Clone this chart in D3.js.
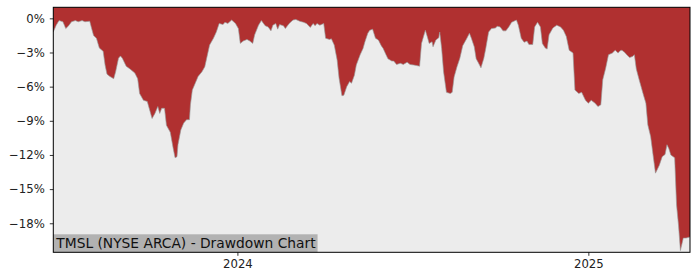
<!DOCTYPE html>
<html><head><meta charset="utf-8">
<script src="https://cdn.jsdelivr.net/npm/d3@7"></script>
<style>html,body{margin:0;padding:0;background:#fff;}svg{display:block;}</style>
</head><body><svg id="chart" width="700" height="280"></svg>
<script>
const dates = ["2023-06-23","2023-06-26","2023-06-29","2023-07-03","2023-07-06","2023-07-09","2023-07-12","2023-07-16","2023-07-19","2023-07-23","2023-07-26","2023-07-31","2023-08-02","2023-08-04","2023-08-07","2023-08-10","2023-08-14","2023-08-16","2023-08-18","2023-08-21","2023-08-25","2023-08-27","2023-08-30","2023-09-01","2023-09-03","2023-09-07","2023-09-11","2023-09-16","2023-09-19","2023-09-21","2023-09-25","2023-09-29","2023-10-02","2023-10-04","2023-10-07","2023-10-10","2023-10-12","2023-10-14","2023-10-17","2023-10-19","2023-10-23","2023-10-26","2023-10-28","2023-10-30","2023-10-31","2023-11-03","2023-11-06","2023-11-09","2023-11-12","2023-11-13","2023-11-15","2023-11-18","2023-11-21","2023-11-25","2023-11-28","2023-12-01","2023-12-03","2023-12-07","2023-12-10","2023-12-13","2023-12-17","2023-12-19","2023-12-22","2023-12-26","2023-12-30","2024-01-02","2024-01-04","2024-01-07","2024-01-11","2024-01-14","2024-01-17","2024-01-19","2024-01-23","2024-01-26","2024-01-30","2024-02-02","2024-02-05","2024-02-07","2024-02-10","2024-02-12","2024-02-14","2024-02-18","2024-02-20","2024-02-24","2024-02-28","2024-03-02","2024-03-06","2024-03-10","2024-03-13","2024-03-17","2024-03-20","2024-03-22","2024-03-24","2024-03-27","2024-03-31","2024-04-02","2024-04-06","2024-04-08","2024-04-11","2024-04-14","2024-04-16","2024-04-19","2024-04-21","2024-04-24","2024-04-27","2024-04-29","2024-05-02","2024-05-04","2024-05-08","2024-05-11","2024-05-13","2024-05-16","2024-05-18","2024-05-21","2024-05-24","2024-05-27","2024-05-30","2024-06-01","2024-06-04","2024-06-06","2024-06-10","2024-06-12","2024-06-15","2024-06-19","2024-06-22","2024-06-26","2024-06-29","2024-07-03","2024-07-06","2024-07-09","2024-07-11","2024-07-15","2024-07-17","2024-07-19","2024-07-22","2024-07-23","2024-07-26","2024-07-29","2024-07-30","2024-08-01","2024-08-03","2024-08-06","2024-08-10","2024-08-12","2024-08-14","2024-08-17","2024-08-20","2024-08-23","2024-08-27","2024-08-30","2024-09-01","2024-09-04","2024-09-06","2024-09-08","2024-09-11","2024-09-14","2024-09-16","2024-09-19","2024-09-22","2024-09-26","2024-09-28","2024-10-01","2024-10-04","2024-10-07","2024-10-10","2024-10-13","2024-10-18","2024-10-20","2024-10-23","2024-10-26","2024-10-29","2024-10-31","2024-11-04","2024-11-06","2024-11-09","2024-11-12","2024-11-14","2024-11-17","2024-11-19","2024-11-21","2024-11-25","2024-11-29","2024-12-03","2024-12-06","2024-12-09","2024-12-12","2024-12-16","2024-12-18","2024-12-22","2024-12-25","2024-12-29","2025-01-01","2025-01-04","2025-01-08","2025-01-11","2025-01-14","2025-01-16","2025-01-19","2025-01-22","2025-01-26","2025-01-29","2025-02-01","2025-02-03","2025-02-05","2025-02-08","2025-02-10","2025-02-13","2025-02-16","2025-02-18","2025-02-20","2025-02-23","2025-02-27","2025-03-02","2025-03-04","2025-03-07","2025-03-09","2025-03-12","2025-03-16","2025-03-19","2025-03-22","2025-03-24","2025-03-26","2025-03-28","2025-04-01","2025-04-03","2025-04-05","2025-04-07","2025-04-10","2025-04-13","2025-04-17"];
const drawdown = [-1.2,-0.6,-0.2,-0.3,-0.9,-0.65,-0.3,-0.2,-0.3,-0.2,-0.3,-0.25,-0.9,-1.5,-1.75,-2.6,-2.9,-4.1,-4.9,-5.1,-5.3,-4.7,-3.5,-3.3,-3.5,-4.2,-4.45,-4.8,-5.3,-6.6,-7.2,-7.3,-8.2,-8.8,-8.35,-7.75,-8.35,-7.9,-7.9,-9.4,-10.0,-11.4,-12.25,-12.15,-11.1,-9.8,-9.2,-8.9,-8.9,-7.6,-6.3,-5.7,-5.1,-4.7,-4.25,-3.1,-2.35,-1.75,-1.2,-0.45,-0.55,-0.35,-0.45,-0.15,-0.45,-0.9,-2.2,-2.0,-1.85,-2.0,-2.2,-1.45,-0.6,-0.2,-0.65,-0.75,-1.1,-0.6,-0.45,-0.95,-0.55,-0.65,-0.9,-0.45,-0.15,-0.1,-0.25,-0.35,-0.45,-0.8,-0.45,-0.65,-0.45,-0.6,-0.45,-1.75,-1.85,-1.8,-2.35,-3.65,-5.25,-6.8,-6.75,-6.0,-5.55,-5.7,-5.0,-4.1,-3.2,-2.65,-2.05,-1.3,-1.05,-0.95,-1.75,-1.9,-2.4,-2.65,-3.2,-3.55,-3.75,-3.75,-4.05,-3.95,-4.05,-3.85,-4.05,-4.1,-4.15,-4.2,-2.2,-1.05,-1.6,-2.2,-2.05,-2.5,-1.9,-1.7,-1.2,-2.65,-4.7,-6.5,-6.6,-6.5,-5.15,-4.25,-3.5,-2.4,-1.8,-1.3,-1.75,-2.5,-3.55,-3.85,-4.35,-3.5,-2.65,-1.2,-0.9,-0.85,-0.7,-0.75,-1.1,-1.1,-0.75,-0.35,-0.15,-0.6,-1.75,-2.1,-2.0,-2.3,-2.3,-0.75,-0.35,-0.75,-2.2,-2.6,-2.7,-1.45,-0.85,-0.6,-0.75,-1.05,-1.6,-2.8,-3.05,-6.3,-6.6,-6.5,-7.2,-7.45,-7.2,-7.45,-7.75,-7.6,-5.4,-4.4,-3.2,-3.05,-2.8,-3.05,-2.85,-2.8,-3.0,-3.2,-3.45,-3.35,-3.2,-4.45,-5.4,-6.6,-7.45,-9.35,-10.4,-11.7,-13.6,-12.9,-12.15,-11.95,-11.1,-11.45,-12.0,-12.25,-16.4,-18.15,-20.4,-19.3,-19.3,-19.2];
const yTicks = [0,-3,-6,-9,-12,-15,-18];
const xTickDates = ["2024-01-01","2025-01-01"];
const xTickLabels = ["2024","2025"];
const yDomain = [-20.55, 0.97];
const title = "TMSL (NYSE ARCA) - Drawdown Chart";

const svg = d3.select("#chart");
const m = {left:53.3, top:7.3, right:10, bottom:27.7};
const W = 700, H = 280;
const parse = d3.utcParse("%Y-%m-%d");
const data = dates.map((d,i)=>({date:parse(d), v:drawdown[i]}));

const x = d3.scaleUtc().domain(d3.extent(data, d=>d.date)).range([m.left, W-m.right]);
const y = d3.scaleLinear().domain(yDomain).range([H-m.bottom, m.top]);

svg.append("rect").attr("x",m.left).attr("y",m.top).attr("width",W-m.right-m.left).attr("height",H-m.bottom-m.top).attr("fill","#ececec");

const area = d3.area().x(d=>x(d.date)).y0(m.top).y1(d=>y(d.v));
svg.append("path").datum(data).attr("d",area).attr("fill","#b03030");
const line = d3.line().x(d=>x(d.date)).y(d=>y(d.v));
svg.append("path").datum(data).attr("d",line).attr("fill","none").attr("stroke","#999").attr("stroke-width",0.8).attr("stroke-opacity",0.8);

// title box
const tg = svg.append("g");
const tt = tg.append("text").attr("x",m.left+3).attr("y",247.8)
  .attr("font-family","DejaVu Sans").attr("font-size",13.8).attr("fill","#111").text(title);
const tw = tt.node().getComputedTextLength();
tg.insert("rect","text").attr("x",m.left).attr("y",234.3).attr("width",tw+5).attr("height",H-m.bottom-234.3).attr("fill","#b2b2b2");

// axes
const fmt = d => d3.format("d")(d) + "%";
const yAxis = d3.axisLeft(y).tickValues(yTicks).tickFormat(fmt).tickSize(3.5).tickPadding(5);
const gy = svg.append("g").attr("transform",`translate(${m.left},0)`).call(yAxis);
const xAxis = d3.axisBottom(x).tickValues(xTickDates.map(parse)).tickFormat((d,i)=>xTickLabels[i]).tickSize(3.5).tickPadding(4);
const gx = svg.append("g").attr("transform",`translate(0,${H-m.bottom})`).call(xAxis);
[gx,gy].forEach(g=>{
  g.select(".domain").remove();
  g.selectAll("text").attr("font-family","DejaVu Sans").attr("font-size",11.7).attr("fill","#222");
  g.selectAll("line").attr("stroke","#000").attr("stroke-width",0.8);
});
svg.append("rect").attr("x",m.left).attr("y",m.top).attr("width",W-m.right-m.left).attr("height",H-m.bottom-m.top)
  .attr("fill","none").attr("stroke","#000").attr("stroke-width",1);
</script></body></html>
